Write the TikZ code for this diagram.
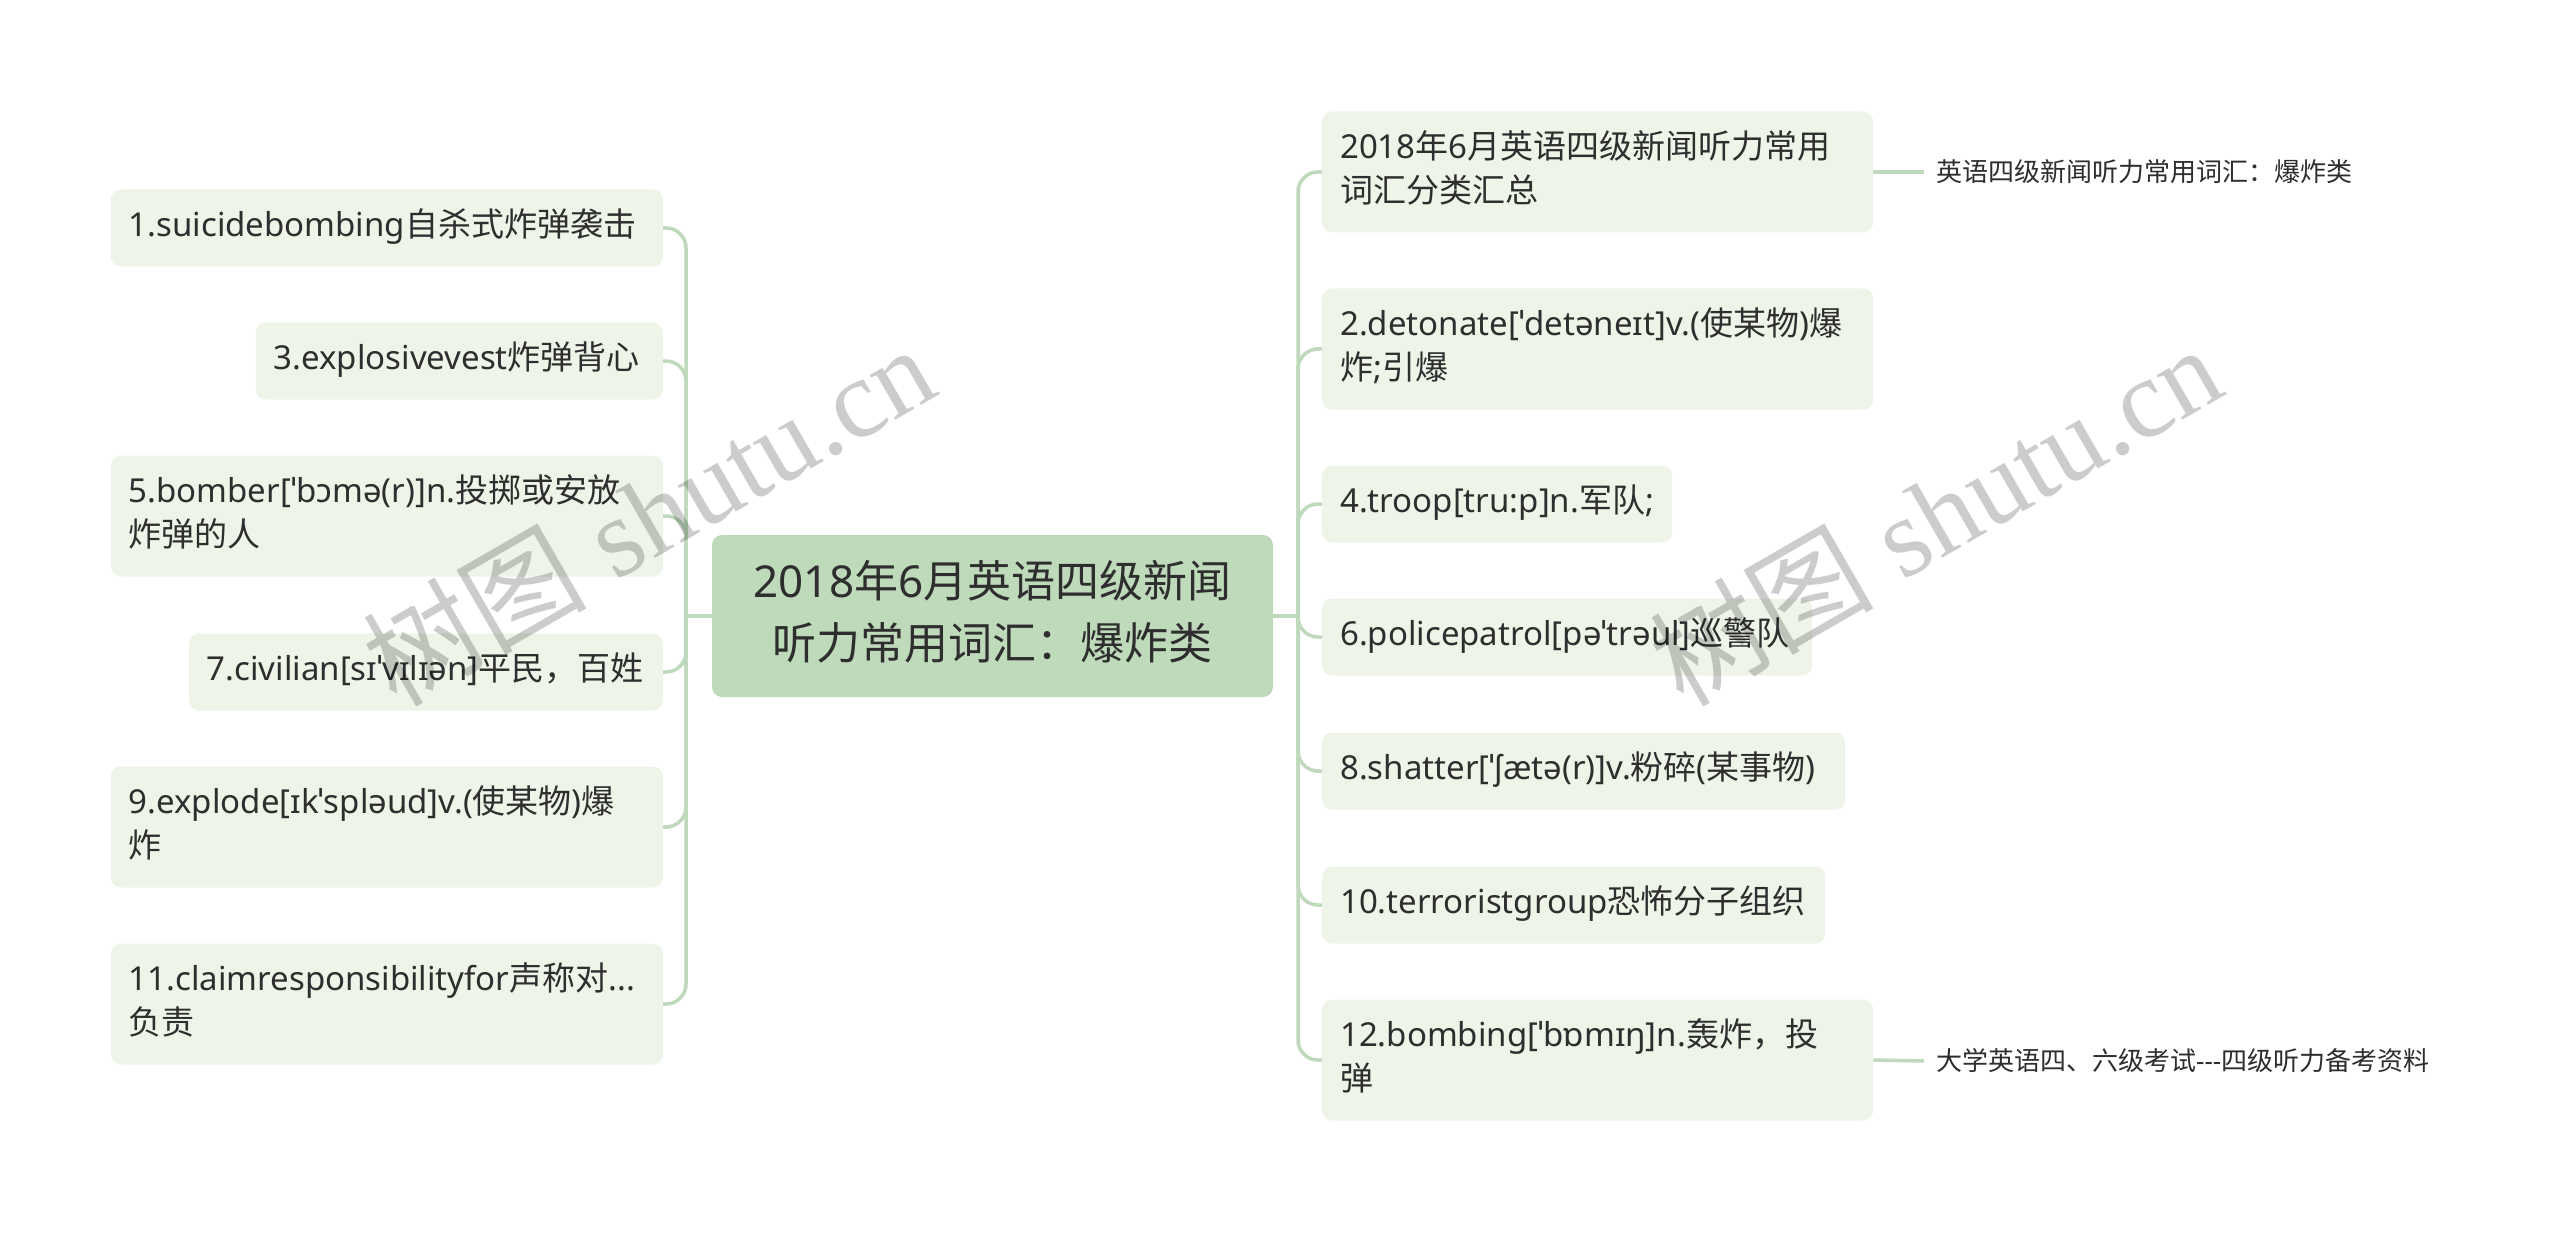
\documentclass[tikz,border=0pt]{standalone}
\usepackage{fontspec}
\setmainfont{Noto Sans}
\newfontfamily\cjk{Noto Sans CJK SC}
\newfontfamily\wmserif{Liberation Serif}
\newcommand\zh[1]{{\cjk #1}}
\hyphenpenalty=10000
\exhyphenpenalty=10000
\definecolor{boxfill}{HTML}{EEF5E8}
\definecolor{cfill}{HTML}{BFDABB}
\definecolor{linec}{HTML}{BFD9BC}
\definecolor{txt}{HTML}{2E2E2E}
\tikzset{
  box/.style={fill=boxfill, rounded corners=10pt, inner xsep=18pt, inner ysep=0pt,
    align=left, text=txt, font=\fontsize{33pt}{44pt}\selectfont},
  one/.style={minimum height=77pt},
  two/.style={minimum height=121pt},
  cbox/.style={fill=cfill, rounded corners=10pt, inner sep=0pt, align=center,
    text=txt, minimum width=561pt, minimum height=162pt,
    font=\fontsize{44pt}{62pt}\selectfont},
  leaf/.style={inner xsep=12pt, inner ysep=0pt, text=txt,
    font=\fontsize{26pt}{32pt}\selectfont},
  conn/.style={draw=linec, line width=3.5pt, rounded corners=20pt},
  wm/.style={text=black, text opacity=0.2, inner sep=0pt,
    font=\fontsize{112pt}{120pt}\selectfont}
}
\begin{document}
\begin{tikzpicture}[x=1pt,y=-1pt]
\useasboundingbox[fill=white] (0,0) rectangle (2560,1233);

% centre
\node[cbox] (C) at (992.5,616) {\strut 2018\zh{年}6\zh{月英语四级新闻}\\\strut\zh{听力常用词汇：爆炸类}};

% left branch
\node[box, one, text width=516pt, anchor=east] (L1) at (663,228) {\strut 1.suicidebombing\zh{自杀式炸弹袭击}};
\node[box, one, text width=371pt, anchor=east] (L3) at (663,361) {\strut 3.explosivevest\zh{炸弹背心}};
\node[box, two, text width=516pt, anchor=east] (L5) at (663,516) {\strut 5.bomber[ˈbɔmə(r)]n.\zh{投掷或安放}\\\strut\zh{炸弹的人}};
\node[box, one, text width=438pt, anchor=east] (L7) at (663,672) {\strut 7.civilian[sɪˈvɪlɪən]\zh{平民，百姓}};
\node[box, two, text width=516pt, anchor=east] (L9) at (663,827) {\strut 9.explode[ɪkˈspləud]v.(\zh{使某物})\zh{爆}\\\strut\zh{炸}};
\node[box, two, text width=516pt, anchor=east] (L11) at (663,1004) {\strut 11.claimresponsibilityfor\zh{声称对}...\\\strut\zh{负责}};

% right branch
\node[box, two, text width=515pt, anchor=west] (R0) at (1322,172) {\strut 2018\zh{年}6\zh{月英语四级新闻听力常用}\\\strut\zh{词汇分类汇总}};
\node[box, two, text width=515pt, anchor=west] (R2) at (1322,349) {\strut 2.detonate[ˈdetəneɪt]v.(\zh{使某物})\zh{爆}\\\strut\zh{炸};\zh{引爆}};
\node[box, one, text width=314pt, anchor=west] (R4) at (1322,504) {\strut 4.troop[tru:p]n.\zh{军队};};
\node[box, one, text width=454pt, anchor=west] (R6) at (1322,637) {\strut 6.policepatrol[pəˈtrəul]\zh{巡警队}};
\node[box, one, text width=487pt, anchor=west] (R8) at (1322,771) {\strut 8.shatter[ˈʃætə(r)]v.\zh{粉碎}(\zh{某事物})};
\node[box, one, text width=467pt, anchor=west] (R10) at (1322,905) {\strut 10.terroristgroup\zh{恐怖分子组织}};
\node[box, two, text width=515pt, anchor=west] (R12) at (1322,1060) {\strut 12.bombing[ˈbɒmɪŋ]n.\zh{轰炸，投}\\\strut\zh{弹}};

% leaves
\node[leaf, anchor=west] (T0) at (1924,172) {\zh{英语四级新闻听力常用词汇：爆炸类}};
\node[leaf, anchor=west] (T1) at (1924,1061) {\zh{大学英语四、六级考试}-{}-{}-\zh{四级听力备考资料}};

% connectors
\coordinate (rt) at (1298,616);
\coordinate (lt) at (686,616);
\draw[conn] (C.east) -- (rt);
\draw[conn] (C.west) -- (lt);
\foreach \n in {R0,R2,R4,R6,R8,R10,R12} \draw[conn] (rt) |- (\n.west);
\foreach \n in {L1,L3,L5,L7,L9,L11} \draw[conn] (lt) |- (\n.east);
\draw[conn] (R0.east) -- (T0.west);
\draw[conn] (R12.east) -- (T1.west);

% watermarks
\node[wm, rotate=30] (W1) at (648,514) {\zh{树图} {\wmserif shutu.cn}};
\node[wm, rotate=30] (W2) at (1935,514) {\zh{树图} {\wmserif shutu.cn}};
\end{tikzpicture}
\end{document}
